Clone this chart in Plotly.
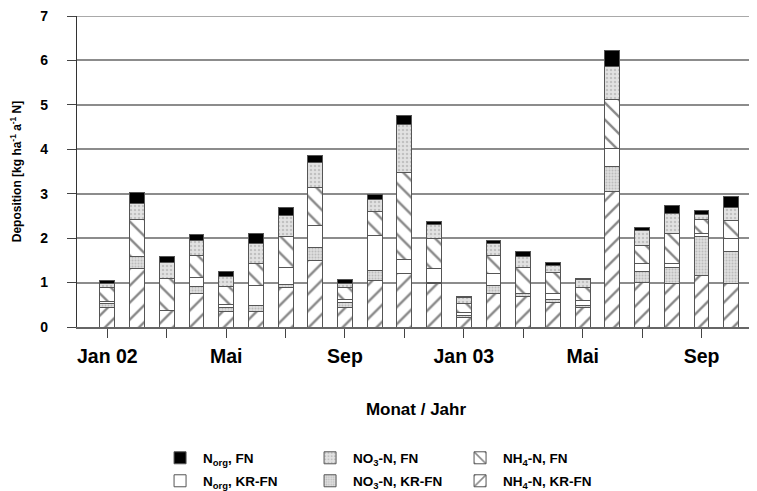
import plotly.graph_objects as go

months = ["Jan 02", "Feb 02", "Mär 02", "Apr 02", "Mai 02", "Jun 02", "Jul 02", "Aug 02",
          "Sep 02", "Okt 02", "Nov 02", "Dez 02", "Jan 03", "Feb 03", "Mär 03", "Apr 03",
          "Mai 03", "Jun 03", "Jul 03", "Aug 03", "Sep 03", "Okt 03"]

nh4_krfn = [0.45, 1.31, 0.37, 0.75, 0.36, 0.34, 0.88, 1.49, 0.45, 1.05, 1.21, 0.98,
            0.22, 0.75, 0.68, 0.55, 0.45, 3.06, 1.01, 0.99, 1.16, 0.99]
no3_krfn = [0.08, 0.27, 0.00, 0.17, 0.08, 0.15, 0.07, 0.31, 0.10, 0.23, 0.00, 0.02,
            0.03, 0.19, 0.07, 0.08, 0.03, 0.56, 0.25, 0.36, 0.88, 0.70]
norg_krfn = [0.05, 0.00, 0.00, 0.19, 0.07, 0.45, 0.40, 0.49, 0.08, 0.78, 0.31, 0.31,
             0.08, 0.26, 0.00, 0.12, 0.12, 0.40, 0.17, 0.08, 0.06, 0.30]
nh4_fn = [0.32, 0.84, 0.72, 0.50, 0.40, 0.49, 0.68, 0.85, 0.25, 0.53, 1.95, 0.68,
          0.20, 0.41, 0.60, 0.48, 0.30, 1.10, 0.41, 0.67, 0.32, 0.41]
no3_fn = [0.08, 0.36, 0.37, 0.34, 0.22, 0.45, 0.49, 0.56, 0.10, 0.28, 1.09, 0.32,
          0.13, 0.28, 0.23, 0.15, 0.17, 0.74, 0.34, 0.45, 0.11, 0.29]
norg_fn = [0.06, 0.24, 0.12, 0.14, 0.12, 0.22, 0.17, 0.15, 0.08, 0.11, 0.21, 0.07,
           0.02, 0.05, 0.12, 0.07, 0.03, 0.37, 0.07, 0.18, 0.10, 0.25]

tick_labels = ["Jan 02", "Mai", "Sep", "Jan 03", "Mai", "Sep"]
tick_months = ["Jan 02", "Mai 02", "Sep 02", "Jan 03", "Mai 03", "Sep 03"]
y_ticks = [0, 1, 2, 3, 4, 5, 6, 7]

x_pos = list(range(len(months)))
tick_pos = [months.index(m) for m in tick_months]

FONT = "Liberation Sans, Arial, sans-serif"
GRID = "#8c8c8c"
line = dict(color="#555555", width=1)

series = [
    # name, values, legend, rank, marker
    ("NH<sub>4</sub>-N, KR-FN", nh4_krfn, "legend2", 3,
     dict(color="white", line=line,
          pattern=dict(shape="/", size=12, solidity=0.2, fgcolor="#111111", bgcolor="white"))),
    ("NO<sub>3</sub>-N, KR-FN", no3_krfn, "legend2", 2,
     dict(color="#d4d4d4", line=line,
          pattern=dict(shape=".", size=3, solidity=0.35, fgcolor="#9a9a9a", bgcolor="#dedede"))),
    ("N<sub>org</sub>, KR-FN", norg_krfn, "legend2", 1,
     dict(color="white", line=line)),
    ("NH<sub>4</sub>-N, FN", nh4_fn, "legend", 3,
     dict(color="white", line=line,
          pattern=dict(shape="\\", size=12, solidity=0.2, fgcolor="#111111", bgcolor="white"))),
    ("NO<sub>3</sub>-N, FN", no3_fn, "legend", 2,
     dict(color="#d8d8d8", line=line,
          pattern=dict(shape=".", size=4, solidity=0.3, fgcolor="#a0a0a0", bgcolor="#e2e2e2"))),
    ("N<sub>org</sub>, FN", norg_fn, "legend", 1,
     dict(color="black", line=line)),
]

fig = go.Figure()
for name, vals, leg, rank, marker in series:
    fig.add_trace(go.Bar(x=x_pos, y=vals, name=name, marker=marker,
                         legend=leg, legendrank=rank, customdata=months,
                         hovertemplate="%{customdata}: %{y}<extra></extra>"))

# top gridline (plotly drops grid lines lying on the plot edge)
fig.add_shape(type="line", xref="paper", x0=0, x1=1, yref="y", y0=y_ticks[-1], y1=y_ticks[-1],
              line=dict(color=GRID, width=1.5), layer="below")

legend_common = dict(orientation="h", xref="container", yref="container",
                     x=0.199, xanchor="left", yanchor="middle",
                     entrywidth=99, entrywidthmode="pixels", itemwidth=36,
                     traceorder="normal", bgcolor="rgba(0,0,0,0)",
                     font=dict(family=FONT, size=13.5, color="black", weight="bold"),
                     itemclick=False)

fig.update_layout(
    width=749, height=483,
    margin=dict(l=69, r=2, t=8, b=164, autoexpand=False),
    paper_bgcolor="white", plot_bgcolor="white",
    barmode="stack", bargap=0.5,
    font=dict(family=FONT, color="black"),
    legend=dict(legend_common, y=0.0683),
    legend2=dict(legend_common, y=0.0207),
    xaxis=dict(
        range=[-1.02, 21.8],
        tickmode="array", tickvals=tick_pos, ticktext=tick_labels,
        ticks="outside", ticklen=9, tickcolor="#444444", tickwidth=1,
        minor=dict(tickmode="array", tickvals=x_pos[::2], ticks="outside",
                   ticklen=9, tickcolor="#444444", tickwidth=1, showgrid=False),
        ticklabelstandoff=2,
        tickfont=dict(family=FONT, size=19.5, weight="bold"),
        showline=True, linecolor="#666666", linewidth=1.5,
        showgrid=False, zeroline=False,
        title=dict(text="Monat / Jahr", standoff=37,
                   font=dict(family=FONT, size=17, weight="bold")),
    ),
    yaxis=dict(
        range=[0, 7], tickmode="array", tickvals=y_ticks,
        ticks="outside", ticklen=9, tickcolor="#444444", tickwidth=1,
        ticklabelstandoff=16, ticklabeloverflow="allow",
        tickfont=dict(family=FONT, size=14, weight="bold"),
        showline=True, linecolor="#333333", linewidth=1.2,
        showgrid=True, gridcolor=GRID, gridwidth=1.5,
        zeroline=False,
        title=dict(text="Deposition [kg ha<sup>-1</sup> a<sup>-1</sup> N]", standoff=24,
                   font=dict(family=FONT, size=12, weight="bold")),
    ),
)

fig.write_html("out.html")
